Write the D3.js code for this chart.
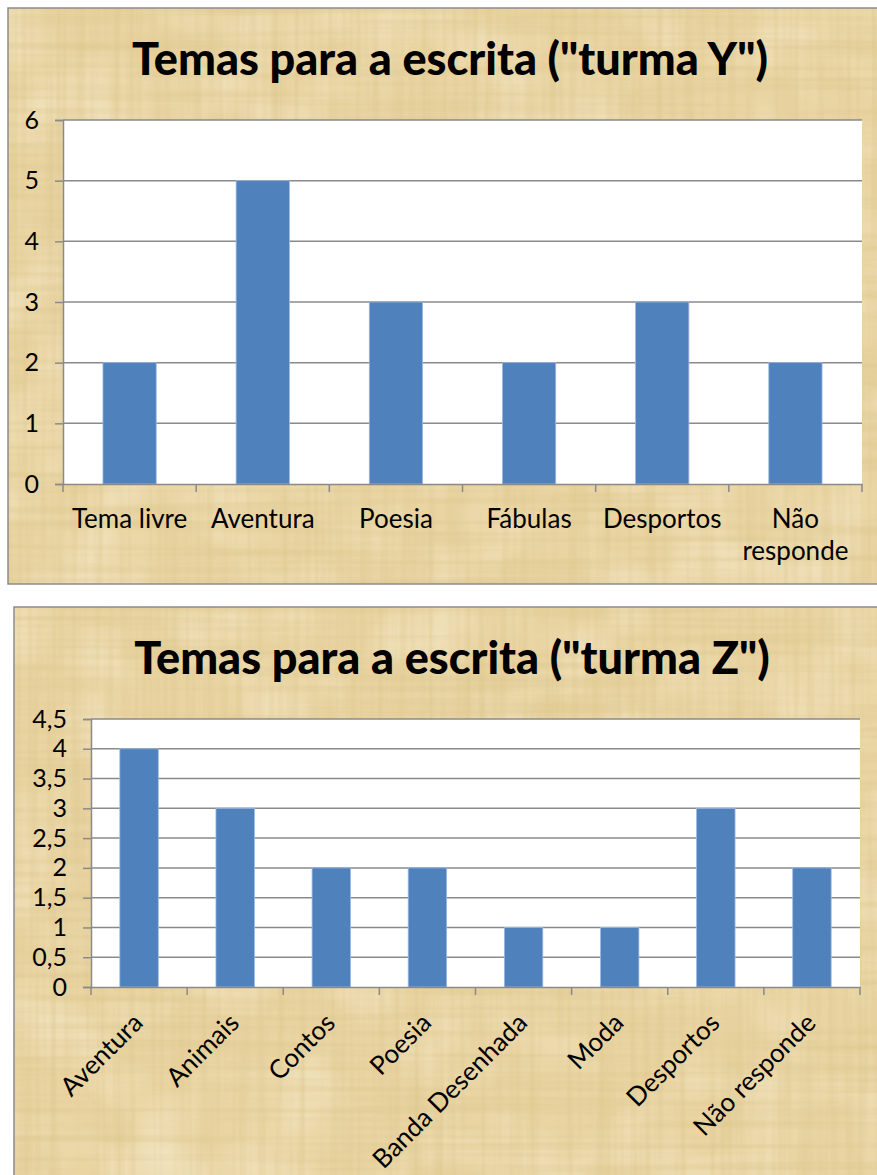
<!DOCTYPE html>
<html>
<head>
<meta charset="utf-8">
<script src="https://cdn.jsdelivr.net/npm/d3@7"></script>
<style>
  body { margin: 0; background: #fff; }
  svg { display: block; font-family: Lato, "Open Sans", sans-serif; }
</style>
</head>
<body>
<div id="chart"></div>
<script>
// data
var catsY = ["Tema livre", "Aventura", "Poesia", "Fábulas", "Desportos", "Não responde"];
var valsY = [2, 5, 3, 2, 3, 2];
var ticksY = [0, 1, 2, 3, 4, 5, 6];

var catsZ = ["Aventura", "Animais", "Contos", "Poesia", "Banda Desenhada", "Moda", "Desportos", "Não responde"];
var valsZ = [4, 3, 2, 2, 1, 1, 3, 2];
var ticksZ = [0, 0.5, 1, 1.5, 2, 2.5, 3, 3.5, 4, 4.5];

var titles = ['Temas para a escrita ("turma Y")', 'Temas para a escrita ("turma Z")'];

var W = 877, H = 1175;
var barColor = "#4f81bd", gridColor = "#8a8a8a";
var comma = function(d) { return String(d).replace(".", ","); };

var svg = d3.select("#chart").append("svg")
  .attr("width", W)
  .attr("height", H);

// papyrus-ish texture: fine horizontal + vertical fibres
var defs = svg.append("defs");
function fibres(id, freq, seed, a) {
  var f = defs.append("filter").attr("id", id)
    .attr("x", 0).attr("y", 0).attr("width", 1).attr("height", 1);
  f.append("feTurbulence").attr("type", "fractalNoise")
    .attr("baseFrequency", freq).attr("numOctaves", 2).attr("seed", seed);
  f.append("feColorMatrix").attr("type", "matrix")
    .attr("values", "0 0 0 0 0.7  0 0 0 0 0.55  0 0 0 0 0.25  " + a + " 0 0 0 " + (-a * 0.42));
}
fibres("fibH", "0.003 0.14", 3, 1.0);
fibres("fibV", "0.14 0.003", 7, 1.0);
var blot = defs.append("filter").attr("id", "blot")
  .attr("x", 0).attr("y", 0).attr("width", 1).attr("height", 1);
blot.append("feTurbulence").attr("type", "fractalNoise")
  .attr("baseFrequency", "0.015").attr("numOctaves", 2).attr("seed", 11);
blot.append("feColorMatrix").attr("type", "matrix")
  .attr("values", "0 0 0 0 0.98  0 0 0 0 0.93  0 0 0 0 0.78  0.9 0 0 0 -0.38");

function panel(o) {
  var g = svg.append("g");
  var box = { x: o.x, y: o.y, w: o.w, h: o.h };
  g.append("rect").attr("x", box.x).attr("y", box.y)
    .attr("width", box.w).attr("height", box.h).attr("fill", "#e9d4a2");
  ["blot", "fibH", "fibV"].forEach(function(id) {
    g.append("rect").attr("x", box.x).attr("y", box.y)
      .attr("width", box.w).attr("height", box.h)
      .attr("filter", "url(#" + id + ")");
  });
  g.append("rect").attr("x", box.x).attr("y", box.y)
    .attr("width", box.w).attr("height", box.h)
    .attr("fill", "none").attr("stroke", "#8c8c8c").attr("stroke-width", 1.5);

  // title
  g.append("text")
    .attr("x", o.titleX).attr("y", o.titleY)
    .attr("text-anchor", "middle")
    .style("font-weight", "900").style("font-size", "45px")
    .attr("fill", "#000")
    .text(o.title);

  var x = d3.scaleBand().domain(o.cats).range([o.left, o.right]).paddingInner(0.6).paddingOuter(0.3);
  var xb = d3.scaleBand().domain(o.cats).range([o.left, o.right]);
  var y = d3.scaleLinear().domain([0, d3.max(o.ticks)]).range([o.bottom, o.top]);

  g.append("rect").attr("x", o.left).attr("y", o.top)
    .attr("width", o.right - o.left).attr("height", o.bottom - o.top)
    .attr("fill", "#fff");

  // gridlines
  g.append("g").selectAll("line").data(o.ticks.slice(1)).enter().append("line")
    .attr("x1", o.left).attr("x2", o.right)
    .attr("y1", function(d) { return y(d); }).attr("y2", function(d) { return y(d); })
    .attr("stroke", gridColor).attr("stroke-width", 1.5);

  // bars
  g.append("g").selectAll("rect").data(o.vals).enter().append("rect")
    .attr("x", function(d, i) { return x(o.cats[i]); })
    .attr("width", x.bandwidth())
    .attr("y", function(d) { return y(d); })
    .attr("height", function(d) { return o.bottom - y(d); })
    .attr("fill", barColor)
    .attr("stroke", "#9fb8dc").attr("stroke-width", 0.8);

  // y axis
  var ya = g.append("g").attr("transform", "translate(" + o.left + ",0)")
    .call(d3.axisLeft(y).tickValues(o.ticks).tickFormat(comma).tickSize(8).tickPadding(16));
  ya.select(".domain").attr("stroke", gridColor).attr("stroke-width", 1.5);
  ya.selectAll(".tick line").attr("stroke", gridColor).attr("stroke-width", 1.5);
  ya.selectAll("text").style("font-size", "25px").attr("fill", "#000")
    .style("font-family", "Lato, sans-serif");

  // x axis
  var xa = g.append("g").attr("transform", "translate(0," + o.bottom + ")")
    .call(d3.axisBottom(xb).tickSize(0).tickFormat(""));
  xa.select(".domain").attr("stroke", gridColor).attr("stroke-width", 1.5);
  var edges = o.cats.map(function(c) { return xb(c); }).concat([o.right]);
  xa.selectAll("line.edge").data(edges).enter().append("line")
    .attr("class", "edge")
    .attr("x1", function(d) { return d; }).attr("x2", function(d) { return d; })
    .attr("y1", 0).attr("y2", 8)
    .attr("stroke", gridColor).attr("stroke-width", 1.5);

  var lab = g.append("g").selectAll("text").data(o.cats).enter().append("text")
    .style("font-size", "26px").attr("fill", "#000");
  if (o.rotate) {
    lab.attr("text-anchor", "end")
      .attr("transform", function(d) {
        return "translate(" + (xb(d) + xb.bandwidth() / 2 - 1) + "," + (o.bottom + 31) + ") rotate(-45)";
      })
      .attr("dy", "0.35em")
      .text(function(d) { return d; });
  } else {
    lab.attr("text-anchor", "middle").each(function(d) {
      var t = d3.select(this);
      var words = o.wrap[d] || [d];
      words.forEach(function(w, k) {
        t.append("tspan")
          .attr("x", xb(d) + xb.bandwidth() / 2)
          .attr("y", o.bottom + 44 + k * 32)
          .text(w);
      });
    });
  }
}

panel({
  x: 8, y: 8, w: 890, h: 576,
  title: titles[0], titleX: 450, titleY: 75,
  cats: catsY, vals: valsY, ticks: ticksY,
  left: 63, right: 862, top: 120, bottom: 484,
  wrap: { "Não responde": ["Não", "responde"] }
});

panel({
  x: 14, y: 607, w: 890, h: 600,
  title: titles[1], titleX: 452, titleY: 674,
  cats: catsZ, vals: valsZ, ticks: ticksZ,
  left: 91, right: 860, top: 719, bottom: 987,
  rotate: true
});
</script>
</body>
</html>
